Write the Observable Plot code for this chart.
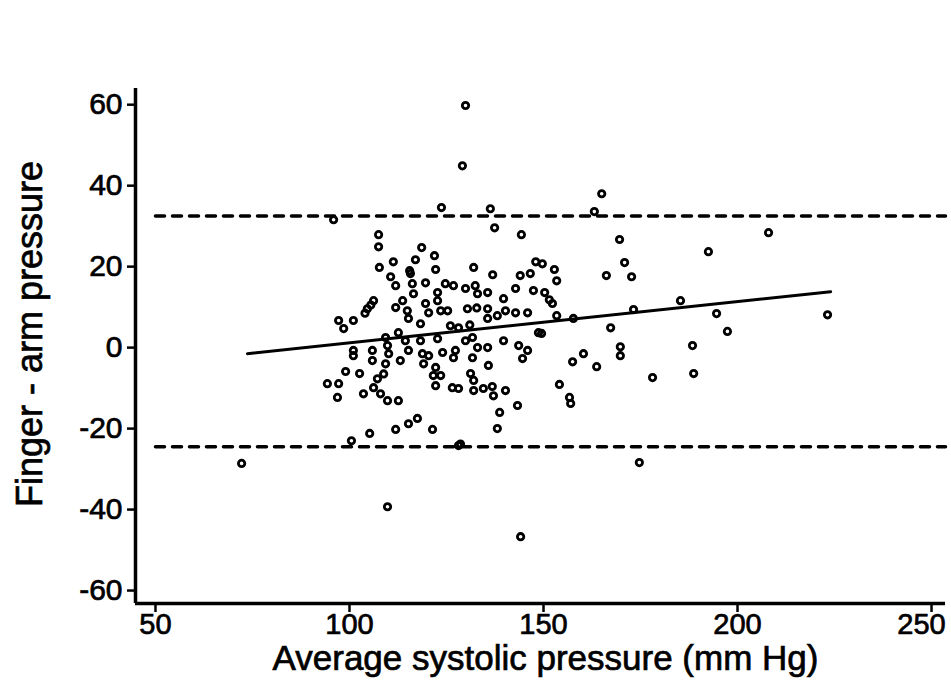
<!DOCTYPE html>
<html>
<head>
<meta charset="utf-8">
<script src="https://cdn.jsdelivr.net/npm/d3@7"></script>
<script src="https://cdn.jsdelivr.net/npm/@observablehq/plot@0.6"></script>
<style>
  html, body { margin: 0; padding: 0; background: #fff; }
  #chart svg { display: block; }
  #chart svg text { stroke: #000; stroke-width: 0.7px; }
</style>
</head>
<body>
<div id="chart"></div>
<script>
// Average systolic pressure (mm Hg)
const avgPressure = [
  95.9, 98.5, 97.2, 99, 94.3, 97.2, 96.9, 100.5, 72.2, 102.6,
  129.9, 129.1, 123.7, 136.3, 137.4, 144.3, 107.5, 107.5, 118.6, 121.9,
  117, 111.3, 148, 107.7, 115.5, 122.2, 132, 111.9, 115.7, 116.2,
  116.5, 119.6, 136.9, 144, 146.6, 142.8, 147.4, 124.7, 126.8, 129.9,
  132.4, 133, 135.6, 139.7, 122.7, 122.7, 119.6, 113.7, 111.9, 114.9,
  115.2, 104.6, 105.5, 104, 106.2, 101, 118.3, 120.4, 123.5, 125.3,
  126, 128.1, 130.4, 135.6, 135.6, 138.1, 140.2, 142.8, 145.9, 148.7,
  112.6, 114.4, 115.2, 109.8, 110.1, 101, 101, 105.9, 105.9, 109.3,
  113.1, 118.8, 120.4, 124, 127.3, 126.8, 119.1, 122.2, 121.6, 123.5,
  122.2, 118.3, 122.7, 129.9, 131.7, 133, 135.6, 139.7, 143.6, 145.9,
  144.6, 131.7, 135.8, 131.2, 132, 126.5, 128.1, 132, 134.5, 136.8,
  137.1, 140.2, 143.3, 103.6, 106.2, 108, 109.8, 112.6, 107.2, 105.2,
  111.9, 115.2, 117.5, 121.4, 128.1, 138.1, 138.7, 109.8, 144.1, 165,
  163.1, 169.6, 192.5, 149.7, 170.9, 152.8, 153.4, 166.2, 172.7, 150.3,
  152.3, 151.5, 153.4, 157.7, 173.2, 185.3, 194.6, 149.5, 167.3, 169.8,
  188.4, 157.5, 160.3, 163.7, 169.8, 188.7, 178.1, 154.1, 156.7, 157,
  174.7, 208, 197.4, 223.2, 132.8, 131, 110.6, 109.3, 108.8, 128.6
];
// Finger - arm pressure difference (mm Hg)
const diffPressure = [
  31.6, 4.7, 6.7, -5.9, -8.9, -8.9, -12.3, -23, -28.6, -6.4,
  59.8, 44.9, 34.6, 34.3, 29.6, 27.9, 27.9, 24.9, 24.7, 22.7,
  21.7, 21.2, 21.2, 19.8, 19, 19.3, 19.8, 15.3, 18.3, 15.8,
  13.3, 16, 18, 17.8, 18.3, 14.6, 14.1, 15.8, 15.3, 14.6,
  15.3, 13.3, 13.6, 12.1, 13.6, 11.6, 10.9, 11.6, 9.9, 9.1,
  7.2, 9.6, 10.5, 8.5, 11.6, 6.7, 5.9, 8.6, 9.1, 9.1,
  5.4, 4.9, 9.6, 9.6, 7.2, 7.9, 9.1, 8.6, 8.6, 3.7,
  3.7, 1.7, -0.7, 0.5, -1.5, -0.7, -2, -0.7, -3.2, -4,
  -3.2, -1.5, -2, -1.2, -0.7, -2.5, -4, -4.9, -6.9, -6.9,
  -9.4, 1.7, 2.2, 1.7, 2.5, 0, 0, 1.7, 0.5, -0.7,
  -2.7, -2.5, -4.4, -6.4, -8.1, -9.9, -10.1, -10.6, -10.1, -9.6,
  -11.9, -10.6, -14.3, -11.4, -9.9, -11.4, -13.1, -13.1, -7.7, -21.2,
  -20.2, -18.8, -17.5, -20.2, -24.2, -20, -16, -39.3, -46.7, 38,
  33.6, 26.7, 23.7, 20.7, 21, 19.3, 16.5, 17.8, 17.5, 13.6,
  10.9, 11.8, 7.9, 7.2, 9.4, 11.6, 8.4, 3.5, 4.9, 0.2,
  0.5, -3.5, -1.5, -4.7, -2, -6.4, -7.4, -9.1, -12.3, -13.8,
  -28.4, 28.4, 4, 8.1, 9.8, 5.6, 17.5, 2.5, -6.5, -23.8
];

// Limits of agreement and regression line
const limitValues = [32.5, -24.5];
const limitSpan = [50, 253.6];
const fitX = [73.7, 224];
const fitY = [-1.5, 13.8];

// Axis ticks
const xTicks = [50, 100, 150, 200, 250];
const yTicks = [-60, -40, -20, 0, 20, 40, 60];
const xDomain = [44.85, 253.6];
const yDomain = [-63.2, 64];

const xTitle = "Average systolic pressure (mm Hg)";
const yTitle = "Finger - arm pressure";

const points = avgPressure.map((x, i) => ({x, y: diffPressure[i]}));
const limits = limitValues.flatMap((v, k) => limitSpan.map(x => ({x, y: v, k})));
const fit = fitX.map((x, i) => ({x, y: fitY[i]}));
const fmt = d => String(d);

const chart = Plot.plot({
  width: 951,
  height: 682,
  marginLeft: 135,
  marginRight: 6,
  marginTop: 88,
  marginBottom: 79,
  x: {domain: xDomain},
  y: {domain: yDomain},
  style: {fontFamily: "'Liberation Sans', Arial, sans-serif", fontSize: "30px", color: "#000", background: "#fff", overflow: "hidden"},
  marks: [
    Plot.axisX({ticks: xTicks, tickSize: 9, strokeWidth: 2.5, label: null, tickFormat: () => ""}),
    Plot.text(xTicks.slice(0, -1), {x: d => d, text: fmt, frameAnchor: "bottom", dy: 30, fontSize: 29}),
    Plot.text(xTicks.slice(-1), {x: d => d, text: fmt, frameAnchor: "bottom", dy: 30, dx: -10, fontSize: 29}),
    Plot.axisY({ticks: yTicks, tickSize: 8, tickPadding: 5, strokeWidth: 2.5, label: null, fontSize: 30, tickFormat: fmt}),
    Plot.ruleX([xDomain[0]], {strokeWidth: 3.5}),
    Plot.ruleY([yDomain[0]], {strokeWidth: 3.5}),
    Plot.line(limits, {x: "x", y: "y", z: "k", stroke: "#000", strokeWidth: 3.5, strokeDasharray: "9,8"}),
    Plot.line(fit, {x: "x", y: "y", stroke: "#000", strokeWidth: 3}),
    Plot.dot(points, {x: "x", y: "y", r: 3.2, stroke: "#000", strokeWidth: 2.8, fill: "none"}),
    Plot.text([xTitle], {frameAnchor: "bottom", dy: 66, dx: 5, fontSize: 35}),
    Plot.text([yTitle], {frameAnchor: "left", dx: -105, dy: -12, rotate: -90, textAnchor: "middle", fontSize: 36})
  ]
});
document.getElementById("chart").append(chart);
</script>
</body>
</html>
